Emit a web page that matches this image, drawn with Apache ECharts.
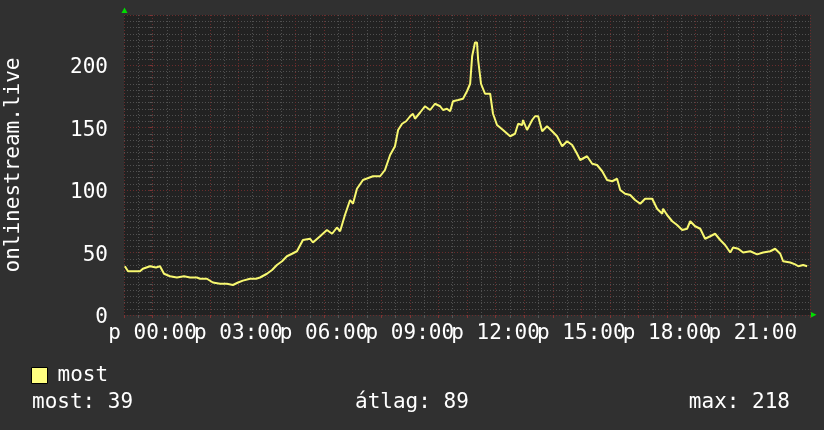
<!DOCTYPE html>
<html>
<head>
<meta charset="utf-8">
<script src="https://cdn.jsdelivr.net/npm/echarts@6/dist/echarts.min.js"></script>
<style>
html,body{margin:0;padding:0;background:#303030;}
#chart{width:824px;height:430px;}
</style>
</head>
<body>
<div id="chart"></div>
<script>
// time of each reading, in hours relative to midnight (negative = previous evening)
const times = [-0.97,-0.86,-0.62,-0.44,-0.34,-0.09,0.12,0.26,0.40,0.61,0.85,1.10,1.31,1.55,1.66,1.90,2.11,2.36,2.60,2.81,2.99,3.16,3.41,3.62,3.76,4.00,4.18,4.35,4.53,4.70,4.88,5.05,5.26,5.51,5.61,5.86,6.10,6.28,6.45,6.56,6.73,6.91,7.01,7.15,7.36,7.71,7.96,8.13,8.31,8.48,8.59,8.73,8.87,9.01,9.11,9.18,9.36,9.53,9.71,9.88,10.06,10.16,10.30,10.41,10.51,10.69,10.86,11.00,11.11,11.18,11.28,11.35,11.39,11.49,11.63,11.81,11.91,12.05,12.26,12.51,12.68,12.79,12.93,12.96,13.10,13.28,13.38,13.49,13.63,13.80,13.98,14.15,14.33,14.50,14.68,14.85,14.96,15.20,15.38,15.55,15.73,15.90,16.08,16.25,16.36,16.53,16.71,16.88,17.06,17.23,17.48,17.65,17.83,17.86,18.00,18.18,18.35,18.53,18.70,18.81,18.98,19.16,19.33,19.51,19.68,19.86,20.03,20.21,20.31,20.49,20.66,20.91,21.15,21.36,21.61,21.78,21.96,22.06,22.31,22.48,22.59,22.76,22.90];
const values = [39,35,35,35,37,39,38,39,33,31,30,31,30,30,29,29,26,25,25,24,26,27.5,29,29,30,33,36,40,43,47,49,51,60,61,58,63,68,65,70,67,80,92,89,101,108,111,111,116,128,135,148,153,155,159,161,157,162,167,164,169,167,164,165,163,171,172,173,179,185,207,218,218,204,185,177,177,161,152,148,143,145,153,152,156,148,156,159,159,147,151,147,143,135,139,136,129,124,127,121,120,115,108,107,109,100,97,96,92,89,93,93,85,81,85,80,75,72,68,69,75,71,69,61,63,65,60,56,50,54,53,50,51,48.5,50,51,53,49,43,42,40.5,39,40,39];
const xLabelHours = [0,3,6,9,12,15,18,21];
const yLabelValues = [0,50,100,150,200];
const seriesName = 'most';
const yAxisName = 'onlinestream.live';
const statLabels = ['most', 'átlag', 'max'];
const statValues = [39, 89, 218];

const FONT = 'DejaVu Sans Mono';
const chart = echarts.init(document.getElementById('chart'), null, {renderer:'canvas'});
const pad2 = n => (n < 10 ? '0' : '') + n;

const option = {
  backgroundColor: '#303030',
  animation: false,
  grid: {left:124, right:14, top:15, bottom:115, show:true, backgroundColor:'#222222', borderWidth:0,
         containLabel:false, outerBoundsMode:'none'},
  xAxis: [
    {type:'value', min:-1, max:23, interval:0.5,
     axisLine:{show:false}, axisTick:{show:true, length:3, lineStyle:{color:'#555555'}},
     axisLabel:{show:false},
     splitLine:{show:true, lineStyle:{color:'#505050', type:[1,2], width:1}}},
    {type:'value', min:-1, max:23, interval:1, position:'bottom',
     axisLine:{show:false}, axisTick:{show:true, length:3, lineStyle:{color:'#803333'}},
     axisLabel:{color:'#ffffff', fontSize:21, fontFamily:FONT, margin:8,
       formatter: v => xLabelHours.includes(v) ? 'p ' + pad2(v) + ':00' : ''},
     splitLine:{show:true, lineStyle:{color:'#6a2c2c', type:[1,2], width:1}}}
  ],
  yAxis: [
    {type:'value', min:0, max:240, interval:5,
     axisLine:{show:false}, axisTick:{show:true, length:3, lineStyle:{color:'#555555'}},
     axisLabel:{show:false},
     splitLine:{show:true, lineStyle:{color:'#505050', type:[1,2], width:1}}},
    {type:'value', min:0, max:240, interval:50, position:'left',
     axisLine:{show:false}, axisTick:{show:true, length:3, lineStyle:{color:'#803333'}},
     axisLabel:{color:'#ffffff', fontSize:21, fontFamily:FONT, margin:16,
       formatter: v => yLabelValues.includes(v) ? '{t|' + v + '}' : '',
       rich:{t:{color:'#ffffff', fontSize:21, fontFamily:FONT, padding:[6,0,0,0]}}},
     splitLine:{show:true, lineStyle:{color:'#6a2c2c', type:[1,2], width:1}},
     name: yAxisName, nameLocation:'middle', nameRotate:90, nameGap:100,
     nameTextStyle:{color:'#ffffff', fontSize:21, fontFamily:FONT}}
  ],
  legend: {
    data:[seriesName], left:31, top:365, padding:0, icon:'rect',
    itemWidth:16, itemHeight:16,
    itemStyle:{color:'#ffff80', borderColor:'#000000', borderWidth:1},
    textStyle:{color:'#ffffff', fontSize:21, fontFamily:FONT, padding:[0,0,0,5]}
  },
  title: [
    {text: statLabels[0] + ': ' + statValues[0], left:32, top:392, padding:0,
     textStyle:{color:'#ffffff', fontSize:21, fontFamily:FONT, fontWeight:'normal'}},
    {text: statLabels[1] + ': ' + statValues[1], left:355, top:392, padding:0,
     textStyle:{color:'#ffffff', fontSize:21, fontFamily:FONT, fontWeight:'normal'}},
    {text: statLabels[2] + ': ' + statValues[2], right:34, top:392, padding:0,
     textStyle:{color:'#ffffff', fontSize:21, fontFamily:FONT, fontWeight:'normal'}}
  ],
  graphic: [
    {type:'polygon', shape:{points:[[121.5,13],[127.5,13],[124.5,7.5]]}, style:{fill:'#00dd00'}},
    {type:'polygon', shape:{points:[[811,312],[811,317.5],[816.5,314.75]]}, style:{fill:'#00dd00'}}
  ],
  series: [{
    name: seriesName, type:'line', xAxisIndex:1, yAxisIndex:1,
    data: times.map((t, i) => [t, values[i]]),
    showSymbol:false, symbol:'none', z:10,
    itemStyle:{color:'#ffff80'},
    lineStyle:{color:'#f8f870', width:2}
  }]
};
chart.setOption(option);
</script>
</body>
</html>
